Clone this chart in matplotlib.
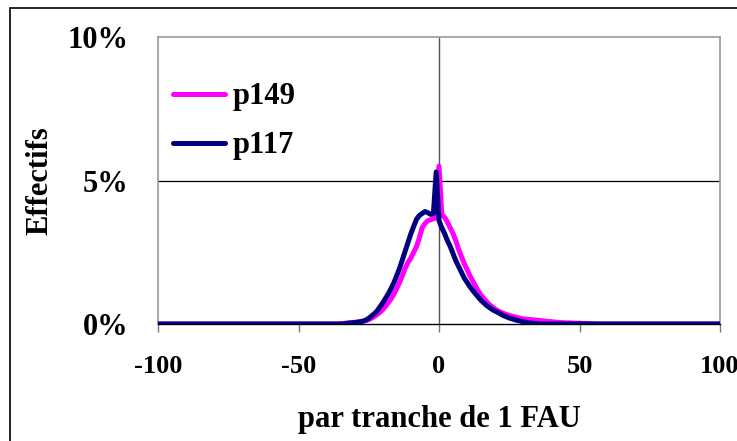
import numpy as np
import matplotlib.pyplot as plt
from matplotlib.patches import Rectangle

# classes de 1 FAU, de -100 a 100
fau = np.arange(-100, 101)

# effectifs (%), de -40 a 60 (0 ailleurs)
p149_mid = [0, 0, 0, 0, 0, 0.01, 0.02, 0.03, 0.04, 0.05,          # -40..-31
            0.06, 0.07, 0.08, 0.10, 0.12, 0.15, 0.20, 0.26, 0.33, 0.41,  # -30..-21
            0.50, 0.62, 0.75, 0.88, 1.05, 1.25, 1.45, 1.70, 1.95, 2.15,  # -20..-11
            2.30, 2.50, 2.70, 3.00, 3.35, 3.50, 3.60, 3.63, 3.67, 3.70,  # -10..-1
            5.50,                                                        # 0
            3.80, 3.72, 3.55, 3.35, 3.15, 2.90, 2.60, 2.35, 2.10, 1.90,  # 1..10
            1.68, 1.50, 1.32, 1.15, 1.00, 0.88, 0.77, 0.67, 0.60, 0.52,  # 11..20
            0.46, 0.41, 0.37, 0.33, 0.30, 0.27, 0.25, 0.22, 0.20, 0.18,  # 21..30
            0.17, 0.16, 0.15, 0.14, 0.13, 0.12, 0.11, 0.10, 0.09, 0.08,  # 31..40
            0.07, 0.06, 0.05, 0.05, 0.04, 0.04, 0.04, 0.03, 0.03, 0.03,  # 41..50
            0.02, 0.02, 0.02, 0.01, 0.01, 0, 0, 0, 0, 0]                 # 51..60

p117_mid = [0, 0, 0, 0, 0, 0, 0, 0.02, 0.03, 0.04,                   # -40..-31
            0.05, 0.06, 0.08, 0.10, 0.14, 0.20, 0.28, 0.36, 0.46, 0.60,  # -30..-21
            0.74, 0.90, 1.06, 1.25, 1.45, 1.70, 1.95, 2.25, 2.55, 2.85,  # -20..-11
            3.15, 3.40, 3.65, 3.78, 3.85, 3.92, 3.88, 3.82, 3.85, 5.30,  # -10..-1
            3.60,                                                        # 0
            3.35, 3.15, 2.90, 2.70, 2.45, 2.20, 2.00, 1.80, 1.60, 1.45,  # 1..10
            1.30, 1.17, 1.05, 0.93, 0.82, 0.73, 0.64, 0.57, 0.50, 0.45,  # 11..20
            0.40, 0.34, 0.29, 0.25, 0.21, 0.18, 0.15, 0.12, 0.10, 0.08,  # 21..30
            0.06, 0.04, 0.03, 0.02, 0.01, 0, 0, 0, 0, 0,                 # 31..40
            0, 0, 0, 0, 0, 0, 0, 0, 0, 0,
            0, 0, 0, 0, 0, 0, 0, 0, 0, 0]

p149 = np.concatenate([np.zeros(60), p149_mid, np.zeros(40)])
p117 = np.concatenate([np.zeros(60), p117_mid, np.zeros(40)])

xticks = [-100, -50, 0, 50, 100]
yticks = [0, 5, 10]
ylabels = ['0%', '5%', '10%']

plt.rcParams['font.family'] = ['Liberation Serif', 'DejaVu Serif']
plt.rcParams['font.weight'] = 'bold'

fig = plt.figure(figsize=(7.37, 4.41), dpi=100)
ax = fig.add_axes([158 / 737, 1 - 324 / 441, 562 / 737, 287 / 441])

# cadre exterieur
fig.patches.append(Rectangle((10 / 737, -0.1), 1.2, 1 - 8 / 441 + 0.1, transform=fig.transFigure,
                             fill=False, edgecolor='black', linewidth=1.2))

ax.set_xlim(-100, 100)
ax.set_ylim(0, 10)

for s in ['left', 'top', 'right']:
    ax.spines[s].set_color('#999999')
    ax.spines[s].set_linewidth(1.2)
ax.spines['bottom'].set_color('black')
ax.spines['bottom'].set_linewidth(1.0)

ax.axhline(5, color='black', linewidth=0.9, zorder=1)
ax.axvline(0, color='#555555', linewidth=1.0, zorder=1)

ax.plot(fau, p149, color='#FF00FF', linewidth=3.6, label='p149', zorder=3,
        solid_joinstyle='round', solid_capstyle='round')
ax.plot(fau, p117, color='#000080', linewidth=3.6, label='p117', zorder=4,
        solid_joinstyle='round', solid_capstyle='round')

ax.set_xticks(xticks)
ax.set_xticklabels([str(v) for v in xticks], fontsize=19, fontweight='bold')
ax.tick_params(axis='x', direction='out', length=6, width=1, color='#777777', pad=16)
ax.set_yticks(yticks)
ax.set_yticklabels(ylabels, fontsize=22, fontweight='bold')
ax.tick_params(axis='y', length=0, pad=21)

ax.set_xlabel('par tranche de 1 FAU', fontsize=22, fontweight='bold', labelpad=20)
ax.set_ylabel('Effectifs', fontsize=22, fontweight='bold', labelpad=10)

leg = ax.legend(loc='upper left', bbox_to_anchor=(0.027, 0.842), frameon=False,
                fontsize=22, handlelength=1.7, handletextpad=0.25, labelspacing=0.65,
                borderpad=0, borderaxespad=0)
for t in leg.get_texts():
    t.set_fontweight('bold')

fig.savefig('out.png', dpi=100)
